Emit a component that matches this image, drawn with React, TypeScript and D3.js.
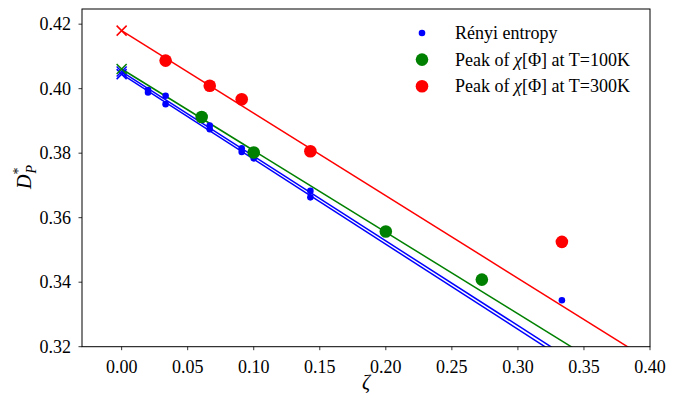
import React from "react";
import * as d3 from "d3";

const W = 680, H = 401;
const M = { left: 82, right: 650, top: 9, bottom: 346.7 };

const xTicks = [0.0, 0.05, 0.1, 0.15, 0.2, 0.25, 0.3, 0.35, 0.4];
const yTicks = [0.32, 0.34, 0.36, 0.38, 0.4, 0.42];

// Rényi entropy points (two sets)
const renyiX = [0.02, 0.02, 0.0333, 0.0333, 0.0667, 0.0667, 0.0909, 0.0909, 0.1, 0.1, 0.1429, 0.1429, 0.3333];
const renyiY = [0.3996, 0.3988, 0.3978, 0.3952, 0.3886, 0.3874, 0.3815, 0.3804, 0.3792, 0.3784, 0.3683, 0.3663, 0.3344];

const g100X = [0.0606, 0.1, 0.2, 0.2727];
const g100Y = [0.3912, 0.3802, 0.3557, 0.3408];

const r300X = [0.0333, 0.0667, 0.0909, 0.1429, 0.3333];
const r300Y = [0.4087, 0.4009, 0.3967, 0.3806, 0.3525];

// fitted lines: intercept (crosses at zeta=0) and slope
const fitNames = ["blueA", "blueB", "green", "red"];
const fitIntercepts = [0.4053, 0.4045, 0.4061, 0.418];
const fitSlopes = [-0.2625, -0.2637, -0.2530, -0.2559];
const fitColors = ["#0000ff", "#0000ff", "#008000", "#ff0000"];

const legendColors = ["#0000ff", "#008000", "#ff0000"];
const legendTemps = ["", "100K", "300K"];

export default function App() {
  const x = d3.scaleLinear().domain([-0.03, 0.4]).range([M.left, M.right]);
  const y = d3.scaleLinear().domain([0.32, 0.4247]).range([M.bottom, M.top]);
  const line = d3.line<[number, number]>().x(d => x(d[0])).y(d => y(d[1]));
  const font = "Liberation Serif, Times New Roman, serif";

  const cross = (cx: number, cy: number, color: string, key: string) => {
    const s = 5;
    return (
      <g key={key} stroke={color} strokeWidth={1.5}>
        <line x1={cx - s} y1={cy - s} x2={cx + s} y2={cy + s} />
        <line x1={cx - s} y1={cy + s} x2={cx + s} y2={cy - s} />
      </g>
    );
  };

  return (
    <svg width={W} height={H} style={{ position: "absolute", left: 0, top: 0, background: "#fff", fontFamily: font }}>
      <defs>
        <clipPath id="plotclip">
          <rect x={M.left} y={M.top} width={M.right - M.left} height={M.bottom - M.top} />
        </clipPath>
      </defs>
      <g clipPath="url(#plotclip)">
        {fitNames.map((n, i) => {
          const pts: [number, number][] = [0, 0.4].map(z => [z, fitIntercepts[i] + fitSlopes[i] * z]);
          return <path key={n} d={line(pts) || ""} fill="none" stroke={fitColors[i]} strokeWidth={1.5} />;
        })}
        {fitNames.map((n, i) => cross(x(0), y(fitIntercepts[i]), fitColors[i], "c" + n))}
        {renyiX.map((v, i) => (
          <circle key={"b" + i} cx={x(v)} cy={y(renyiY[i])} r={3.3} fill="#0000ff" />
        ))}
        {g100X.map((v, i) => (
          <circle key={"g" + i} cx={x(v)} cy={y(g100Y[i])} r={6.3} fill="#008000" />
        ))}
        {r300X.map((v, i) => (
          <circle key={"r" + i} cx={x(v)} cy={y(r300Y[i])} r={6.3} fill="#ff0000" />
        ))}
      </g>

      {/* axes frame */}
      <rect x={M.left} y={M.top} width={M.right - M.left} height={M.bottom - M.top} fill="none" stroke="#000" strokeWidth={1} />

      {xTicks.map(t => (
        <g key={"xt" + t}>
          <line x1={x(t)} x2={x(t)} y1={M.bottom} y2={M.bottom + 3.5} stroke="#000" strokeWidth={0.8} />
          <text x={x(t)} y={M.bottom + 26} textAnchor="middle" fontSize={18} fill="#000">{t.toFixed(2)}</text>
        </g>
      ))}
      {yTicks.map(t => (
        <g key={"yt" + t}>
          <line x1={M.left - 3.5} x2={M.left} y1={y(t)} y2={y(t)} stroke="#000" strokeWidth={0.8} />
          <text x={M.left - 11} y={y(t) + 6} textAnchor="end" fontSize={18} fill="#000">{t.toFixed(2)}</text>
        </g>
      ))}

      <text x={(M.left + M.right) / 2} y={389} textAnchor="middle" fontSize={20} fontStyle="italic" fill="#000">ζ</text>
      <g transform="translate(31,177) rotate(-90)">
        <text x={0} y={0} textAnchor="middle" fontSize={20} fill="#000">
          <tspan fontStyle="italic">D</tspan>
          <tspan fontSize={14} dy={-8}>*</tspan>
          <tspan fontSize={14} fontStyle="italic" dx={-6} dy={13}>P</tspan>
        </text>
      </g>

      {/* legend */}
      {legendColors.map((col, i) => {
        const ly = 33 + i * 26.6;
        const r = i === 0 ? 3.3 : 6.3;
        return (
          <g key={"lg" + i}>
            <circle cx={422} cy={ly} r={r} fill={col} />
            {i === 0 ? (
              <text x={455} y={ly + 6} fontSize={18} fill="#000">Rényi entropy</text>
            ) : (
              <text x={455} y={ly + 6} fontSize={18} fill="#000">
                Peak of <tspan fontStyle="italic">χ</tspan>[Φ] at T={legendTemps[i]}
              </text>
            )}
          </g>
        );
      })}
    </svg>
  );
}
